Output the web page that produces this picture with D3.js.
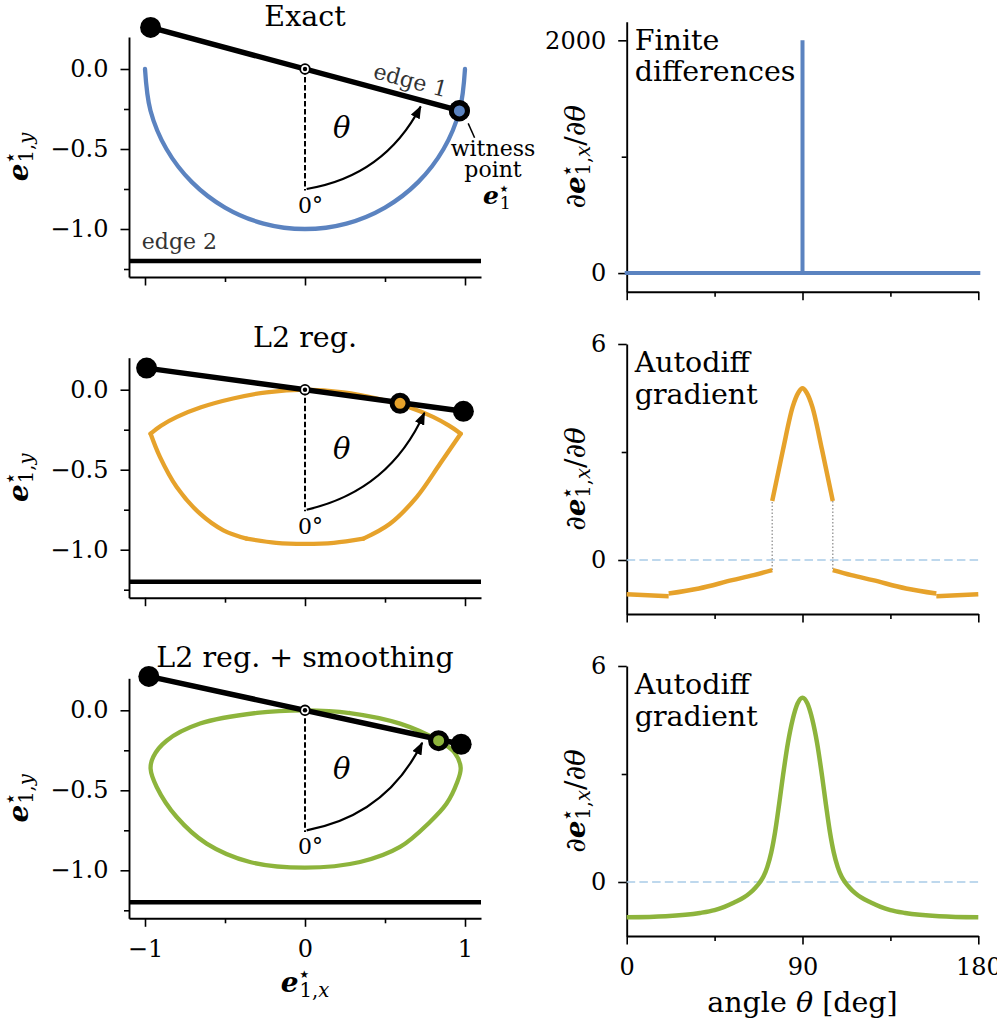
<!DOCTYPE html>
<html>
<head>
<meta charset="utf-8">
<script src="https://cdn.jsdelivr.net/npm/d3@7"></script>
<style>
  body { margin: 0; background: #fff; }
  svg { display: block; font-family: 'DejaVu Serif', serif; }
  .axis path, .axis line { stroke: #000; }
  .axis text { font-family: 'DejaVu Serif', serif; fill: #000; }
</style>
</head>
<body>
<div id="chart"></div>
<script>
// ---- data ----
const titles = ['Exact', 'L2 reg.', 'L2 reg. + smoothing']
const notes = [['Finite', 'differences'], ['Autodiff', 'gradient'], ['Autodiff', 'gradient']]
const colors = ['#5b83c0', '#e6a22b', '#8db43c']

// edge 1 (through the origin), its angle, and the witness point per panel
const edge1 = [
  [[-0.965, 0.26], [0.965, -0.26]],
  [[-0.99, 0.135], [0.99, -0.135]],
  [[-0.976, 0.212], [0.976, -0.212]]
]
const thetaDeg = [75, 82, 77.5]
const witness = [[0.965, -0.262], [0.594, -0.085], [0.835, -0.19]]
const edge2Y = -1.2

// witness point trajectories e1* over theta
const exactPath = [[-1, 0], [-0.966, -0.259], [-0.866, -0.5], [-0.707, -0.707], [-0.5, -0.866],
  [-0.259, -0.966], [0, -1], [0.259, -0.966], [0.5, -0.866], [0.707, -0.707], [0.866, -0.5],
  [0.966, -0.259], [1, 0]]
const l2Bottom = [[-0.365, -0.931], [-0.18, -0.957], [0, -0.963], [0.18, -0.957], [0.365, -0.931]]
const l2Right = [[0.365, -0.931], [0.531, -0.838], [0.698, -0.671], [0.844, -0.463], [0.973, -0.275]]
const l2Top = [[0.973, -0.275], [0.9, -0.225], [0.8, -0.17], [0.65, -0.11], [0.45, -0.055], [0.24, -0.016], [0, 0],
  [-0.24, -0.016], [-0.45, -0.055], [-0.65, -0.11], [-0.8, -0.17], [-0.9, -0.225], [-0.965, -0.275]]
const l2Left = [[-0.965, -0.275], [-0.906, -0.421], [-0.802, -0.608], [-0.656, -0.775],
  [-0.51, -0.879], [-0.365, -0.931]]
const smoothLoop = [[0, 0], [0.28, -0.017], [0.594, -0.083], [0.835, -0.19], [0.935, -0.265],
  [0.973, -0.36], [0.948, -0.458], [0.885, -0.583], [0.781, -0.698], [0.594, -0.854], [0.344, -0.948],
  [0, -0.983], [-0.344, -0.948], [-0.615, -0.833], [-0.802, -0.667], [-0.927, -0.479],
  [-0.965, -0.365], [-0.948, -0.29], [-0.865, -0.19], [-0.656, -0.083], [-0.3, -0.016]]

// d e1x / d theta
const fdTheta = [0, 90, 90, 90, 180]
const fdGrad = [0, 0, 2000, 0, 0]
const l2Segments = [
  [[0, -0.95], [21.5, -1.01]],
  [[21.5, -0.93], [37, -0.79], [54, -0.56], [65, -0.42], [74.5, -0.28]],
  [[74.5, 1.64], [80, 3.06], [85, 4.26], [88, 4.66], [90, 4.77], [92, 4.66], [95, 4.26], [100, 3.06], [105.5, 1.64]],
  [[105.5, -0.28], [115, -0.42], [126, -0.56], [143, -0.79], [158.5, -0.93]],
  [[158.5, -1.01], [180, -0.95]]
]
const smoothTheta = [0, 20, 37.5, 45, 50, 55, 60, 63, 66, 68, 70, 72, 74, 76, 78, 80, 82.5, 85, 87.5, 90,
  92.5, 95, 97.5, 100, 102, 104, 106, 108, 110, 112, 114, 117, 120, 125, 130, 135, 142.5, 160, 180]
const smoothGrad = [-0.98, -0.95, -0.86, -0.78, -0.69, -0.57, -0.43, -0.31, -0.15, -0.02, 0.15, 0.42, 0.82, 1.4, 2.15, 2.95, 3.85, 4.52, 4.96, 5.12,
  4.96, 4.52, 3.85, 2.95, 2.15, 1.4, 0.82, 0.42, 0.15, -0.02, -0.15, -0.31, -0.43, -0.57, -0.69, -0.78, -0.86, -0.95, -0.98]

// axes
const leftXTicks = [-1, 0, 1], leftXMinor = [-0.5, 0.5]
const leftYTicks = [0, -0.5, -1], leftYMinor = [-0.25, -0.75, -1.25]
const rightXTicks = [0, 90, 180], rightXMinor = [45, 135]
const rightYTicks = [[0, 2000], [0, 6], [0, 6]]
const rightYMinor = [[1000], [3], [3]]
const rightYDomains = [[-160, 2160], [-1.5, 6], [-1.5, 6]]

// ---- layout ----
const width = 997
const height = 1020
const leftRange = [129, 481]
const leftTops = [37, 357.7, 678.3]
const leftH = 240
const rightRange = [626.7, 978.3]
const rightTops = [21.7, 344, 666]
const rightH = 270
const bigFont = 28.5

const svg = d3.select('#chart').append('svg')
  .attr('width', width)
  .attr('height', height)

svg.append('defs')
  .append('marker')
    .attr('id', 'arrowHead')
    .attr('viewBox', '0 0 10 10')
    .attr('refX', 9)
    .attr('refY', 5)
    .attr('markerWidth', 13)
    .attr('markerHeight', 10)
    .attr('markerUnits', 'userSpaceOnUse')
    .attr('preserveAspectRatio', 'none')
    .attr('orient', 'auto')
  .append('path')
    .attr('d', 'M0,0L10,5L0,10z')

const fmtLeftY = d3.format('.1f')
const fmtInt = d3.format('d')

function drawAxes(g, x, y, o) {
  const bottom = y.range()[0]
  const left = x.range()[0]
  const minorX = g.append('g').attr('class', 'axis').attr('transform', `translate(0,${bottom})`)
    .call(d3.axisBottom(x).tickValues(o.xMinor).tickSize(5).tickSizeOuter(0).tickFormat(''))
  minorX.select('.domain').remove()
  const minorY = g.append('g').attr('class', 'axis').attr('transform', `translate(${left},0)`)
    .call(d3.axisLeft(y).tickValues(o.yMinor).tickSize(5).tickSizeOuter(0).tickFormat(''))
  minorY.select('.domain').remove()
  g.append('g').attr('class', 'axis').attr('transform', `translate(0,${bottom})`)
    .call(d3.axisBottom(x).tickValues(o.xTicks).tickSize(8.5).tickPadding(13).tickSizeOuter(0)
      .tickFormat(o.xLabels ? o.xFmt : ''))
  g.append('g').attr('class', 'axis').attr('transform', `translate(${left},0)`)
    .call(d3.axisLeft(y).tickValues(o.yTicks).tickSize(8.5).tickPadding(12).tickSizeOuter(0)
      .tickFormat(o.yFmt))
  g.selectAll('.axis .domain').attr('stroke-width', 1.9)
  g.selectAll('.axis line').attr('stroke-width', 1.6)
  g.selectAll('.axis text').attr('font-size', 24)
}

// e*_{1,?} label built from tspans
function eLabel(parent, sub, o) {
  const s = o.size
  const t = parent.append('text')
    .attr('text-anchor', 'middle')
    .attr('font-size', s)
    .attr('transform', `translate(${o.x},${o.y})` + (o.rotate ? ' rotate(-90)' : ''))
  if (o.prefix) t.append('tspan').text(o.prefix)
  t.append('tspan').attr('font-weight', 'bold').attr('font-style', 'italic').text('e')
  const star = t.append('tspan')
    .attr('font-family', "'DejaVu Sans', sans-serif")
    .attr('font-size', s * 0.38).attr('dx', s * 0.03).attr('dy', -s * 0.5).text('★')
  const starW = star.node().getComputedTextLength()
  t.append('tspan').attr('font-size', s * 0.7).attr('dx', -starW).attr('dy', s * 0.5 + 5).text(sub[0])
  if (sub[1]) t.append('tspan').attr('font-size', s * 0.7).attr('font-style', 'italic').text(sub[1])
  if (o.suffix) {
    t.append('tspan').attr('dy', -5).text('/∂')
    t.append('tspan').attr('font-style', 'italic').text('θ')
  }
  return t
}

// ---- left column: witness point geometry ----
leftTops.forEach((top, i) => {
  const x = d3.scaleLinear().domain([-1.1, 1.1]).range(leftRange)
  const y = d3.scaleLinear().domain([-1.3, 0.2]).range([top + leftH, top])
  const g = svg.append('g')
  const last = i === 2

  drawAxes(g, x, y, {
    xTicks: leftXTicks, xMinor: leftXMinor, xLabels: last, xFmt: fmtInt,
    yTicks: leftYTicks, yMinor: leftYMinor, yFmt: fmtLeftY
  })

  g.append('text')
    .attr('x', x(0))
    .attr('y', top - 11)
    .attr('text-anchor', 'middle')
    .attr('font-size', bigFont)
    .text(titles[i])

  eLabel(g, ['1,', 'y'], { x: 28, y: top + leftH / 2, rotate: true, size: 28 })
  if (last) eLabel(g, ['1,', 'x'], { x: x(0), y: top + leftH + 74, size: 28 })

  // edge 2
  g.append('line')
    .attr('x1', leftRange[0]).attr('x2', leftRange[1])
    .attr('y1', y(edge2Y)).attr('y2', y(edge2Y))
    .attr('stroke', '#000').attr('stroke-width', 4.5)

  // witness trajectory
  const line = d3.line().x(d => x(d[0])).y(d => y(d[1]))
  const traj = g.append('g')
    .attr('fill', 'none')
    .attr('stroke', colors[i])
    .attr('stroke-width', 4.3)
    .attr('stroke-linejoin', 'round')
    .attr('stroke-linecap', 'round')
  if (i === 0) {
    traj.append('path').attr('d', line.curve(d3.curveCatmullRom)(exactPath))
  } else if (i === 1) {
    ;[l2Bottom, l2Right, l2Top, l2Left].forEach(p => {
      traj.append('path').attr('d', line.curve(d3.curveCatmullRom)(p))
    })
  } else {
    traj.append('path').attr('d', line.curve(d3.curveCatmullRomClosed)(smoothLoop))
  }

  // theta reference: dashed vertical and curved arrow
  g.append('line')
    .attr('x1', x(0)).attr('x2', x(0))
    .attr('y1', y(0)).attr('y2', y(-0.76))
    .attr('stroke', '#000').attr('stroke-width', 2)
    .attr('stroke-dasharray', '5.5,2.5')

  const th = (thetaDeg[i] - 3) * Math.PI / 180
  const sx = x(0.01), sy = y(-0.75)
  const ex = x(0.76 * Math.sin(th)), ey = y(-0.76 * Math.cos(th))
  const rad = 0.25
  const cx = (sx + ex) / 2 - rad * (ey - sy)
  const cy = (sy + ey) / 2 + rad * (ex - sx)
  g.append('path')
    .attr('d', `M${sx},${sy}Q${cx},${cy} ${ex},${ey}`)
    .attr('fill', 'none')
    .attr('stroke', '#000')
    .attr('stroke-width', 2.2)
    .attr('marker-end', 'url(#arrowHead)')

  g.append('text')
    .attr('x', x(0.035)).attr('y', y(-0.9))
    .attr('text-anchor', 'middle')
    .attr('font-size', 22)
    .text('0°')

  g.append('text')
    .attr('x', x(0.229)).attr('y', y(-0.369))
    .attr('dy', '0.35em')
    .attr('text-anchor', 'middle')
    .attr('font-size', 29)
    .attr('font-style', 'italic')
    .text('θ')

  // edge 1
  const e = edge1[i]
  g.append('line')
    .attr('x1', x(e[0][0])).attr('y1', y(e[0][1]))
    .attr('x2', x(e[1][0])).attr('y2', y(e[1][1]))
    .attr('stroke', '#000').attr('stroke-width', 5.5)
  g.selectAll('.endpoint').data(e).join('circle')
    .attr('class', 'endpoint')
    .attr('cx', d => x(d[0])).attr('cy', d => y(d[1]))
    .attr('r', 10.5)
    .attr('fill', '#000')

  // witness marker
  g.append('circle')
    .attr('cx', x(witness[i][0])).attr('cy', y(witness[i][1]))
    .attr('r', 8)
    .attr('fill', colors[i])
    .attr('stroke', '#000')
    .attr('stroke-width', 5)

  // origin marker
  g.append('circle')
    .attr('cx', x(0)).attr('cy', y(0)).attr('r', 4.8)
    .attr('fill', '#fff').attr('stroke', '#000').attr('stroke-width', 1.8)
  g.append('circle')
    .attr('cx', x(0)).attr('cy', y(0)).attr('r', 2.2)
    .attr('fill', '#000')

  if (i === 0) {
    const ang = Math.atan2(y(e[1][1]) - y(e[0][1]), x(e[1][0]) - x(e[0][0])) * 180 / Math.PI
    g.append('text')
      .attr('transform', `translate(${x(0.66)},${y(-0.07)}) rotate(${ang})`)
      .attr('dy', '0.35em')
      .attr('text-anchor', 'middle')
      .attr('font-size', 22)
      .attr('fill', '#333')
      .text('edge 1')
    g.append('text')
      .attr('x', x(-1.02)).attr('y', y(-1.125))
      .attr('font-size', 22)
      .attr('fill', '#333')
      .text('edge 2')
    g.append('line')
      .attr('x1', x(1.02)).attr('y1', y(-0.34))
      .attr('x2', x(1.06)).attr('y2', y(-0.43))
      .attr('stroke', '#000').attr('stroke-width', 1.5)
    const wt = g.append('text')
      .attr('text-anchor', 'middle')
      .attr('font-size', 22)
    wt.append('tspan').attr('x', x(1.175)).attr('y', y(-0.546)).text('witness')
    wt.append('tspan').attr('x', x(1.175)).attr('y', y(-0.6775)).text('point')
    eLabel(g, ['1', ''], { x: x(1.2), y: y(-0.845), size: 25 })
  }
})

// ---- right column: gradient of e1x ----
rightTops.forEach((top, i) => {
  const x = d3.scaleLinear().domain([0, 180]).range(rightRange)
  const y = d3.scaleLinear().domain(rightYDomains[i]).range([top + rightH, top])
  const g = svg.append('g')
  const last = i === 2

  drawAxes(g, x, y, {
    xTicks: rightXTicks, xMinor: rightXMinor, xLabels: last, xFmt: fmtInt,
    yTicks: rightYTicks[i], yMinor: rightYMinor[i], yFmt: fmtInt
  })

  notes[i].forEach((s, k) => {
    g.append('text')
      .attr('x', rightRange[0] + 8)
      .attr('y', top + 28 + k * 31.5)
      .attr('font-size', bigFont)
      .text(s)
  })

  eLabel(g, ['1,', 'x'], {
    x: 585, y: top + rightH / 2, rotate: true, size: 28, prefix: '∂', suffix: true
  })
  if (last) {
    const xl = g.append('text')
      .attr('x', x(90)).attr('y', top + rightH + 76)
      .attr('text-anchor', 'middle')
      .attr('font-size', bigFont)
    xl.append('tspan').text('angle ')
    xl.append('tspan').attr('font-style', 'italic').text('θ')
    xl.append('tspan').text(' [deg]')
  }

  const line = d3.line().x(d => x(d[0])).y(d => y(d[1]))

  if (i === 0) {
    g.append('path')
      .attr('d', line(fdTheta.map((t, k) => [t, fdGrad[k]])))
      .attr('fill', 'none')
      .attr('stroke', colors[0])
      .attr('stroke-width', 4)
      .attr('stroke-linecap', 'square')
    return
  }

  g.append('line')
    .attr('x1', rightRange[0]).attr('x2', rightRange[1])
    .attr('y1', y(0)).attr('y2', y(0))
    .attr('stroke', '#a9cbe8').attr('stroke-width', 1.6)
    .attr('stroke-dasharray', '8.5,4.2')

  if (i === 1) {
    l2Segments.forEach((seg, k) => {
      const next = l2Segments[k + 1]
      if (next) {
        const a = seg[seg.length - 1], b = next[0]
        if (Math.abs(a[1] - b[1]) > 0.5) {
          g.append('line')
            .attr('x1', x(a[0])).attr('y1', y(a[1]))
            .attr('x2', x(b[0])).attr('y2', y(b[1]))
            .attr('stroke', '#a0a0a0').attr('stroke-width', 1.5)
            .attr('stroke-dasharray', '1.5,2')
        }
      }
    })
    l2Segments.forEach(seg => {
      g.append('path')
        .attr('d', line.curve(d3.curveMonotoneX)(seg))
        .attr('fill', 'none')
        .attr('stroke', colors[1])
        .attr('stroke-width', 4.5)
        .attr('stroke-linecap', 'butt')
    })
  } else {
    g.append('path')
      .attr('d', line.curve(d3.curveMonotoneX)(smoothTheta.map((t, k) => [t, smoothGrad[k]])))
      .attr('fill', 'none')
      .attr('stroke', colors[2])
      .attr('stroke-width', 4.5)
  }
})
</script>
</body>
</html>
